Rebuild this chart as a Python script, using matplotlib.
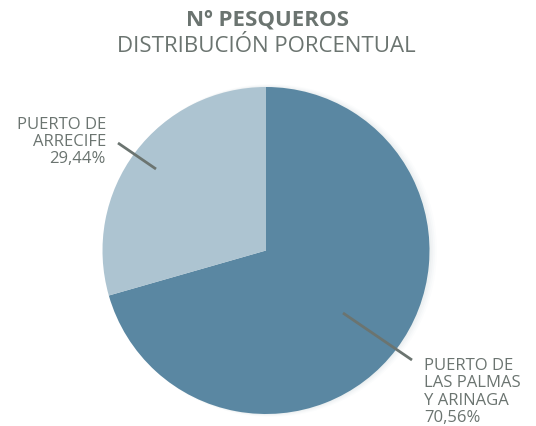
import matplotlib.pyplot as plt

# data
ports = ["PUERTO DE\nLAS PALMAS\nY ARINAGA", "PUERTO DE\nARRECIFE"]
shares = [70.56, 29.44]
colors = ["#5a87a2", "#adc4d1"]

W, H = 536, 426
TXT = "#6b7470"
plt.rcParams['font.family'] = ['Open Sans', 'DejaVu Sans']

fig = plt.figure(figsize=(W / 100, H / 100), dpi=100)
ax = fig.add_axes([0, 0, 1, 1])
ax.set_xlim(0, W)
ax.set_ylim(0, H)
ax.set_aspect('equal')
ax.axis('off')

def Y(y):
    return H - y

cx, cy, r = 266, 250.5, 163.5

# soft shadow on the right side
for i, a in enumerate([0.05, 0.04, 0.03, 0.02]):
    sh = plt.Circle((cx + 1.5 + i, Y(cy)), r + 0.5 + i * 0.8, color='#7f98a8', alpha=a, lw=0, zorder=0)
    ax.add_patch(sh)

ax.pie(shares, colors=colors, startangle=90, counterclock=False,
       center=(cx, Y(cy)), radius=r, frame=True,
       wedgeprops=dict(linewidth=0))
ax.set_xlim(0, W)
ax.set_ylim(0, H)
ax.axis('off')

# titles
ax.text(267, Y(20), "Nº PESQUEROS", ha='center', va='center', fontsize=16,
        fontweight='bold', color=TXT)
ax.text(266, Y(46), "DISTRIBUCIÓN PORCENTUAL", ha='center', va='center',
        fontsize=16, color=TXT)

# labels
ax.text(424, Y(392), f"{ports[0]}\n{shares[0]:.2f}%".replace('.', ','),
        ha='left', va='center', fontsize=12, color=TXT, linespacing=1.12)
ax.text(106, Y(142), f"{ports[1]}\n{shares[1]:.2f}%".replace('.', ','),
        ha='right', va='center', fontsize=12, color=TXT, linespacing=1.08)

# leader lines
ax.plot([343, 412], [Y(313), Y(360)], color=TXT, lw=2, solid_capstyle='butt')
ax.plot([118, 156], [Y(143), Y(169)], color=TXT, lw=2, solid_capstyle='butt')

fig.savefig("out.png", dpi=100)
